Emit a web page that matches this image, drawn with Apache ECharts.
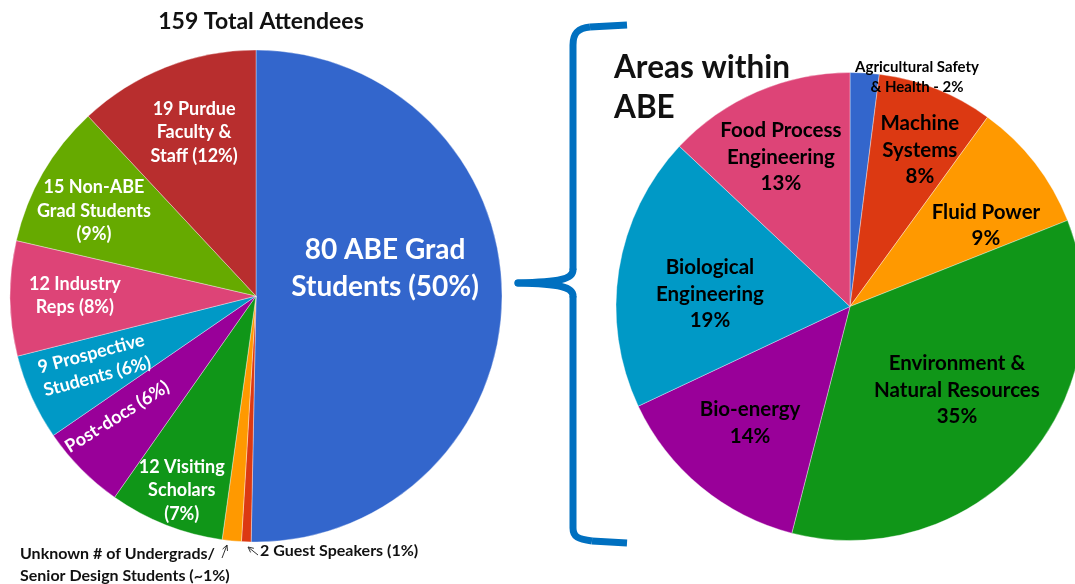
<!DOCTYPE html>
<html><head><meta charset="utf-8">
<script src="https://cdn.jsdelivr.net/npm/echarts@6/dist/echarts.min.js"></script>
<style>html,body{margin:0;padding:0;background:#fff}#c{width:1075px;height:584px}</style>
</head><body><div id="c"></div>
<script>
// ---- data ----
const leftCategories = ['80 ABE Grad\nStudents (50%)', '2 Guest Speakers (1%)', 'Unknown # of Undergrads/\nSenior Design Students (~1%)', '12 Visiting\nScholars\n(7%)', 'Post-docs (6%)', '9 Prospective\nStudents (6%)', '12 Industry\nReps (8%)', '15 Non-ABE\nGrad Students\n(9%)', '19 Purdue\nFaculty &\nStaff (12%)'];
const leftValues = [80, 1, 2, 12, 9, 9, 12, 15, 19];
const rightCategories = ['Agricultural Safety\n& Health', 'Machine\nSystems', 'Fluid Power', 'Environment &\nNatural Resources', 'Bio-energy', 'Biological\nEngineering', 'Food Process\nEngineering'];
const rightValues = [2, 8, 9, 35, 14, 19, 13];
const titleText = '159 Total Attendees';
const subTitleText = 'Areas within\nABE';

// ---- styles / placement ----
const palette = ['#3366cc','#dc3912','#ff9900','#109618','#990099','#0099c6','#dd4477','#66aa00','#b82e2e'];
const rightPalette = ['#3366cc','#dc3912','#ff9900','#109618','#990099','#0099c6','#dd4477'];
const LC = [256, 296], LR = 246;
const RC = [850, 306.5], RR = 234;
// [radius fraction, angle offset from slice middle (deg), rotate (deg)] ; null = label drawn outside
const leftPlace = [[0.537,-12.8,0],null,null,[0.846,-0.6,0],[0.748,3.7,32],[0.715,1.2,15],[0.736,0.6,0],[0.744,-2.3,0],[0.711,0.8,0]];
const rightPlace = [[1.021,12.7,0],[0.731,2.5,0],[0.677,6.9,0],[0.58,-3.4,0],[0.656,1,0],[0.601,-3.9,0],[0.704,-1.4,0]];
const FONT = 'Lato, "Open Sans", sans-serif';

function midAngles(vals){
  const tot = vals.reduce((a,b)=>a+b,0); let acc=0;
  return vals.map(v=>{ const m=(acc+v/2)/tot*360; acc+=v; return m; });
}
const leftMid = midAngles(leftValues), rightMid = midAngles(rightValues);
function place(center, R, mids, placeArr){
  return function(p){
    const s = placeArr[p.dataIndex];
    if(!s) return {};
    const a = (mids[p.dataIndex] + s[1]) * Math.PI/180;
    const r = s[0]*R;
    return {x: center[0] + r*Math.sin(a), y: center[1] - r*Math.cos(a), rotate: s[2], align:'center', verticalAlign:'middle'};
  };
}

const leftData = leftValues.map((v,i)=>({
  value:v, name:leftCategories[i], itemStyle:{color:palette[i]},
  label: leftPlace[i] ? (i===0 ? {fontSize:28, lineHeight:37} : {}) : {show:false}
}));
const rightData = rightValues.map((v,i)=>({
  value:v, name:rightCategories[i], itemStyle:{color:rightPalette[i]},
  label: i===0 ? {fontSize:15, lineHeight:20} : {}
}));

function arrow(x1,y1,x2,y2){
  const dx=x2-x1, dy=y2-y1, L=Math.hypot(dx,dy), ux=dx/L, uy=dy/L, h=6, c=Math.cos(0.45), s=Math.sin(0.45);
  const bx=-ux, by=-uy;
  const p1=[x2+h*(bx*c-by*s), y2+h*(bx*s+by*c)], p2=[x2+h*(bx*c+by*s), y2+h*(-bx*s+by*c)];
  const st={stroke:'#333', lineWidth:1, fill:null};
  return [{type:'line', shape:{x1,y1,x2,y2}, style:st, silent:true},
          {type:'polyline', shape:{points:[p1,[x2,y2],p2]}, style:st, silent:true}];
}
const braceStyle = {stroke:'#0070c0', lineWidth:7, fill:null, lineCap:'butt'};
const braceTip = {stroke:'#0070c0', lineWidth:7, fill:null, lineCap:'round'};

const chart = echarts.init(document.getElementById('c'), null, {renderer:'canvas'});
chart.setOption({
  animation:false,
  backgroundColor:'#fff',
  title:[
    {text:titleText, left:256, top:5, textAlign:'center', textStyle:{fontFamily:FONT, fontSize:23, fontWeight:'bold', color:'#111'}},
    {text:subTitleText, left:609, top:43, textStyle:{fontFamily:FONT, fontSize:31.5, fontWeight:'bold', color:'#111', lineHeight:40}}
  ],
  series:[
    {type:'pie', center:LC, radius:LR, startAngle:90, clockwise:true, avoidLabelOverlap:false,
     itemStyle:{borderColor:'rgba(255,255,255,0.45)', borderWidth:0.8},
     label:{show:true, position:'inside', formatter:'{b}', color:'#fff', fontFamily:FONT, fontWeight:'bold', fontSize:18, lineHeight:23.5, align:'center'},
     labelLine:{show:false}, emphasis:{disabled:true}, data:leftData,
     labelLayout: place(LC, LR, leftMid, leftPlace)},
    {type:'pie', center:RC, radius:RR, startAngle:90, clockwise:true, avoidLabelOverlap:false,
     itemStyle:{borderColor:'rgba(255,255,255,0.45)', borderWidth:0.8},
     label:{show:true, position:'inside', color:'#000', fontFamily:FONT, fontWeight:'bold', fontSize:20.5, lineHeight:26.5, align:'center',
       formatter:p=> p.dataIndex===0 ? p.name + ' - ' + p.value + '%' : p.name + '\n' + p.value + '%'},
     labelLine:{show:false}, emphasis:{disabled:true}, data:rightData,
     labelLayout: place(RC, RR, rightMid, rightPlace)}
  ],
  graphic:[
    {type:'text', left:20, top:543, style:{text:leftCategories[2], font:'bold 16px '+FONT, fill:'#111', lineHeight:22}},
    {type:'text', left:260, top:543, style:{text:leftCategories[1], font:'bold 16px '+FONT, fill:'#111'}},
    ...arrow(222,558,227,545),
    ...arrow(258,555,248,547),
    {type:'line', shape:{x1:627,y1:25,x2:590,y2:27}, style:braceStyle, silent:true},
    {type:'bezierCurve', shape:{x1:590,y1:27,cpx1:578,cpy1:28,cpx2:573,cpy2:33,x2:573,y2:45}, style:braceStyle, silent:true},
    {type:'line', shape:{x1:573,y1:45,x2:573,y2:270}, style:braceStyle, silent:true},
    {type:'bezierCurve', shape:{x1:573,y1:270,cpx1:573,cpy1:279,cpx2:560,cpy2:282,x2:518,y2:283}, style:braceTip, silent:true},
    {type:'bezierCurve', shape:{x1:518,y1:283,cpx1:560,cpy1:284,cpx2:573,cpy2:287,x2:573,y2:296}, style:braceTip, silent:true},
    {type:'line', shape:{x1:573,y1:296,x2:573,y2:528}, style:braceStyle, silent:true},
    {type:'bezierCurve', shape:{x1:573,y1:528,cpx1:573,cpy1:537,cpx2:578,cpy2:539,x2:592,y2:541}, style:braceStyle, silent:true},
    {type:'line', shape:{x1:592,y1:541,x2:627,y2:543}, style:braceStyle, silent:true}
  ]
});
</script></body></html>
